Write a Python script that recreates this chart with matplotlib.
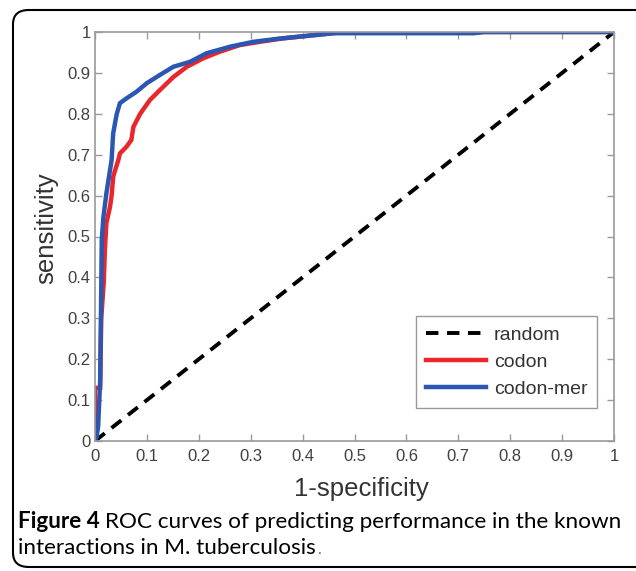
import matplotlib
matplotlib.use("Agg")
import matplotlib.pyplot as plt
from matplotlib.patches import FancyBboxPatch

# ---- data ----
random_x = [0.0, 1.0]
random_y = [0.0, 1.0]

codon_fpr = [0.0, 0.0, 0.010, 0.012, 0.017, 0.019, 0.022, 0.029, 0.032, 0.035,
             0.039, 0.045, 0.048, 0.061, 0.070, 0.074, 0.087, 0.106, 0.125, 0.151,
             0.177, 0.209, 0.241, 0.279, 0.318, 0.360, 0.420, 0.480, 1.0]
codon_tpr = [0.0, 0.130, 0.130, 0.300, 0.390, 0.467, 0.533, 0.573, 0.600, 0.646,
             0.663, 0.687, 0.703, 0.720, 0.736, 0.768, 0.800, 0.834, 0.858, 0.890,
             0.915, 0.936, 0.952, 0.968, 0.976, 0.984, 0.992, 1.0, 1.0]

mer_fpr = [0.0, 0.003, 0.006, 0.010, 0.012, 0.013, 0.016, 0.022, 0.029, 0.032,
           0.035, 0.039, 0.042, 0.048, 0.061, 0.080, 0.100, 0.125, 0.151, 0.183,
           0.215, 0.260, 0.305, 0.356, 0.420, 0.460, 0.730, 0.750, 1.0]
mer_tpr = [0.0, 0.010, 0.035, 0.149, 0.370, 0.491, 0.545, 0.606, 0.663, 0.687,
           0.752, 0.780, 0.800, 0.826, 0.838, 0.854, 0.875, 0.895, 0.915, 0.927,
           0.948, 0.964, 0.976, 0.984, 0.992, 0.997, 0.997, 1.0, 1.0]

ticks = [0, 0.1, 0.2, 0.3, 0.4, 0.5, 0.6, 0.7, 0.8, 0.9, 1]
tick_labels = ["0", "0.1", "0.2", "0.3", "0.4", "0.5", "0.6", "0.7", "0.8", "0.9", "1"]

caption_bold = "Figure 4"
caption_line1 = "ROC curves of predicting performance in the known"
caption_line2 = "interactions in M. tuberculosis"

RED = "#e8262b"
BLUE = "#2b57b3"
W, H = 636, 571
CAP_FONT = "Lato"

fig = plt.figure(figsize=(6.36, 5.71), dpi=100)
ax = fig.add_axes([95/W, 1-441/H, (614-95)/W, (441-32)/H])

ax.plot(random_x, random_y, color="black", lw=2.8, ls=(0, (3.2, 2.2)), label="random")
ax.plot(codon_fpr, codon_tpr, color=RED, lw=3.2, label="codon", solid_joinstyle="miter")
ax.plot(mer_fpr, mer_tpr, color=BLUE, lw=3.2, label="codon-mer", solid_joinstyle="miter")

ax.set_xlim(0, 1)
ax.set_ylim(0, 1)
ax.set_xticks(ticks)
ax.set_yticks(ticks)
ax.set_xticklabels(tick_labels)
ax.set_yticklabels(tick_labels)
for s in ax.spines.values():
    s.set_color("#9a9a9a")
    s.set_linewidth(1.2)
ax.tick_params(direction="in", length=5, width=1, color="#9a9a9a",
               top=True, right=True, labelsize=12, labelcolor="#404040")
ax.tick_params(axis="x", pad=6)
ax.tick_params(axis="y", pad=3)
for lab in ax.get_xticklabels() + ax.get_yticklabels():
    lab.set_family("Liberation Sans")

ax.set_xlabel("1-specificity", fontsize=18.5, family="Liberation Sans", color="#333333",
              va="top")
ax.xaxis.set_label_coords((361-95)/519, -(477-441)/409)
ax.set_ylabel("sensitivity", fontsize=18.5, family="Liberation Sans", color="#333333",
              va="center")
ax.yaxis.set_label_coords((46-95)/519, (441-228)/409)

leg = ax.legend(loc="lower right", bbox_to_anchor=((597-95)/519, (441-408)/409),
                fancybox=False, edgecolor="#9a9a9a", framealpha=1, handlelength=3.1,
                prop={"family": "Liberation Sans", "size": 14}, borderpad=0.5,
                labelspacing=0.5, handletextpad=0.4, borderaxespad=0)
leg.get_frame().set_linewidth(1.0)
for t in leg.get_texts():
    t.set_color("#333333")

# caption: fit first line to span from x=18 to x=622
fig.canvas.draw()
r = fig.canvas.get_renderer()
fs0 = 10
tb = fig.text(0, 0, caption_bold + " ", fontsize=fs0, family=CAP_FONT, weight="bold")
tn = fig.text(0, 0, caption_line1, fontsize=fs0, family=CAP_FONT)
w0 = tb.get_window_extent(r).width + tn.get_window_extent(r).width
tb.remove(); tn.remove()
fs = fs0 * (622 - 18) / w0
y1 = 1 - 528/H
y2 = 1 - 554/H
tb = fig.text(18/W, y1, caption_bold + " ", fontsize=fs, family=CAP_FONT,
              weight="bold", ha="left", va="baseline")
fig.canvas.draw()
wb = tb.get_window_extent(r).width
fig.text((18 + wb)/W, y1, caption_line1, fontsize=fs, family=CAP_FONT,
         ha="left", va="baseline")
t2 = fig.text(18/W, y2, caption_line2, fontsize=fs, family=CAP_FONT,
              ha="left", va="baseline")
fig.canvas.draw()
w2 = t2.get_window_extent(r).width
fig.text((18 + w2 + 1)/W, y2, ".", fontsize=fs*0.7, family=CAP_FONT,
         color="#666666", ha="left", va="baseline")

# rounded border
box = FancyBboxPatch((13/W, 1-567/H), 700/W, (567-10)/H,
                     boxstyle="round,pad=0,rounding_size=0.025",
                     transform=fig.transFigure, fill=False, edgecolor="black",
                     lw=1.5, clip_on=False)
fig.patches.append(box)

fig.savefig("out.png", dpi=100)
